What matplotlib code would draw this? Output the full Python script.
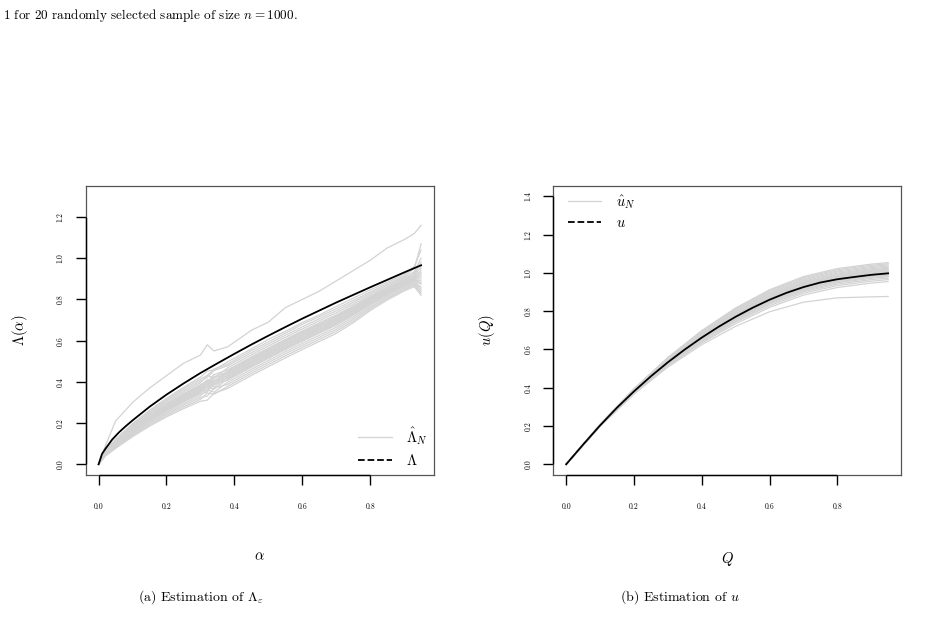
import matplotlib
matplotlib.use("Agg")
import matplotlib.pyplot as plt
from matplotlib.lines import Line2D

plt.rcParams['font.family'] = 'serif'
plt.rcParams['font.serif'] = ['cmr10', 'DejaVu Serif']
plt.rcParams['mathtext.fontset'] = 'cm'
plt.rcParams['axes.formatter.use_mathtext'] = True

# ---------------- data: panel (a) ----------------
alpha_true = [0, .01, .02, .04, .06, .08, .10, .15, .20, .25, .30, .35, .40, .45,
              .50, .55, .60, .65, .70, .75, .80, .85, .90, .95]
lambda_true = [0, .05, .075, .12, .155, .185, .213, .279, .338, .392, .443, .490,
               .536, .581, .624, .666, .707, .746, .785, .822, .859, .895, .931, .966]

alpha_grid = [0, .02, .05, .10, .15, .20, .25, .30, .32, .34, .38, .45, .50, .55,
              .60, .65, .70, .75, .80, .85, .90, .93, .95]
lambda_est = [
    [0, .09, .21, .30, .37, .43, .49, .53, .58, .55, .57, .65, .69, .76, .80, .84, .89, .94, .99, 1.05, 1.09, 1.12, 1.16],
    [0, .066, .122, .198, .262, .320, .373, .423, .452, .458, .497, .560, .606, .645, .688, .724, .766, .806, .846, .884, .921, .960, 1.04],
    [0, .064, .119, .194, .257, .314, .366, .414, .431, .462, .486, .551, .594, .636, .679, .716, .755, .795, .836, .876, .913, .950, 1.07],
    [0, .062, .116, .189, .251, .307, .358, .405, .421, .455, .478, .541, .584, .626, .667, .706, .745, .786, .829, .869, .907, .935, 1.00],
    [0, .060, .112, .184, .245, .300, .350, .396, .431, .418, .468, .531, .574, .616, .657, .696, .735, .777, .821, .862, .901, .925, .98],
    [0, .058, .109, .179, .239, .293, .342, .387, .401, .435, .458, .521, .564, .606, .647, .686, .725, .768, .814, .856, .895, .916, .96],
    [0, .057, .107, .176, .236, .289, .338, .382, .410, .400, .453, .516, .559, .601, .642, .681, .720, .763, .810, .853, .892, .913, .94],
    [0, .056, .105, .174, .233, .286, .334, .378, .391, .425, .448, .511, .554, .596, .637, .676, .715, .759, .806, .849, .889, .930, .95],
    [0, .055, .104, .171, .230, .282, .330, .373, .406, .395, .443, .506, .549, .591, .632, .671, .710, .754, .803, .846, .886, .907, .93],
    [0, .054, .102, .169, .227, .279, .326, .369, .381, .420, .438, .501, .544, .586, .627, .666, .705, .750, .799, .843, .883, .904, .92],
    [0, .053, .100, .166, .224, .275, .322, .364, .396, .385, .433, .496, .539, .581, .622, .661, .700, .745, .795, .840, .880, .901, .91],
    [0, .052, .098, .164, .221, .272, .318, .360, .371, .410, .428, .491, .534, .576, .617, .656, .695, .741, .791, .836, .877, .898, .90],
    [0, .051, .097, .161, .218, .268, .314, .355, .386, .375, .423, .486, .529, .571, .612, .651, .690, .736, .788, .833, .874, .895, .89],
    [0, .050, .095, .159, .215, .265, .310, .351, .361, .400, .418, .481, .524, .566, .607, .646, .685, .732, .784, .830, .871, .892, .88],
    [0, .049, .093, .156, .212, .261, .306, .346, .376, .365, .413, .476, .519, .561, .602, .641, .680, .727, .780, .827, .868, .889, .875],
    [0, .048, .091, .154, .209, .258, .302, .342, .351, .390, .408, .471, .514, .556, .597, .636, .675, .723, .776, .823, .865, .886, .86],
    [0, .046, .088, .149, .203, .251, .294, .333, .361, .350, .398, .461, .504, .546, .587, .626, .665, .714, .769, .817, .859, .880, .85],
    [0, .044, .084, .144, .197, .244, .286, .324, .331, .370, .388, .451, .494, .536, .577, .616, .655, .705, .761, .810, .853, .874, .84],
    [0, .042, .081, .139, .191, .237, .278, .315, .346, .340, .378, .441, .484, .526, .567, .606, .645, .696, .754, .804, .847, .868, .83],
    [0, .040, .077, .134, .185, .230, .270, .306, .311, .345, .368, .431, .474, .516, .557, .596, .635, .687, .746, .797, .841, .862, .82],
]

# ---------------- data: panel (b) ----------------
q_true = [0, .05, .1, .15, .2, .25, .3, .35, .4, .45, .5, .55, .6, .65, .7, .75, .8, .85, .9, .95]
u_true = [0, .103, .203, .296, .381, .460, .533, .600, .662, .719, .771, .818, .860, .896,
          .926, .950, .967, .979, .990, .998]

q_grid = [0, .1, .2, .3, .4, .5, .6, .7, .8, .9, .95]
u_est = [
    [0, .209, .395, .558, .699, .817, .912, .981, 1.023, 1.046, 1.054],
    [0, .208, .394, .556, .695, .813, .907, .975, 1.017, 1.040, 1.048],
    [0, .207, .392, .553, .691, .808, .901, .969, 1.011, 1.034, 1.042],
    [0, .207, .391, .550, .687, .803, .895, .963, 1.005, 1.028, 1.036],
    [0, .206, .389, .547, .683, .798, .890, .957, .999, 1.022, 1.030],
    [0, .206, .388, .545, .680, .793, .885, .952, .994, 1.017, 1.025],
    [0, .205, .387, .543, .677, .789, .880, .948, .989, 1.012, 1.020],
    [0, .205, .386, .541, .674, .786, .877, .944, .985, 1.008, 1.016],
    [0, .204, .385, .539, .671, .783, .873, .940, .981, 1.004, 1.012],
    [0, .204, .384, .538, .669, .779, .869, .936, .977, 1.000, 1.008],
    [0, .204, .383, .536, .666, .776, .866, .932, .973, .996, 1.004],
    [0, .203, .382, .534, .663, .773, .862, .928, .969, .992, 1.000],
    [0, .203, .380, .532, .660, .769, .857, .923, .964, .987, .995],
    [0, .202, .379, .529, .657, .764, .853, .918, .959, .982, .990],
    [0, .202, .378, .527, .653, .760, .848, .913, .954, .977, .985],
    [0, .201, .377, .525, .650, .756, .843, .908, .949, .972, .980],
    [0, .201, .375, .522, .646, .750, .837, .902, .942, .965, .973],
    [0, .200, .373, .518, .640, .744, .829, .894, .934, .957, .965],
    [0, .199, .370, .514, .634, .735, .820, .884, .924, .947, .955],
    [0, .197, .367, .508, .625, .721, .797, .847, .870, .875, .877],
]

x_ticks = [0.0, 0.2, 0.4, 0.6, 0.8]
y_ticks_a = [0.0, 0.2, 0.4, 0.6, 0.8, 1.0, 1.2]
y_ticks_b = [0.0, 0.2, 0.4, 0.6, 0.8, 1.0, 1.2, 1.4]

GREY = '#D3D3D3'
W, H = 933, 618
fig = plt.figure(figsize=(W / 100, H / 100), dpi=100)


def px_axes(l, t, r, b):
    return fig.add_axes([l / W, 1 - b / H, (r - l) / W, (b - t) / H])


def style(ax, yticks, ylim):
    ax.set_xlim(-0.038, 0.988)
    ax.set_ylim(*ylim)
    for s in ax.spines.values():
        s.set_color('#555555')
        s.set_linewidth(0.9)
    ax.set_xticks(x_ticks)
    ax.set_yticks(yticks)
    ax.set_xticklabels([f"{v:.1f}" for v in x_ticks], fontsize=5.5)
    ax.set_yticklabels([f"{v:.1f}" for v in yticks], fontsize=5.5, rotation=90, va='center')
    ax.tick_params(axis='both', which='major', direction='out', length=7, width=1.0,
                   color='black', bottom=True, left=True, top=False, right=False)
    ax.tick_params(axis='x', pad=13)
    ax.tick_params(axis='y', pad=8)
    # R-style axis lines spanning first to last tick
    ax.plot([x_ticks[0], x_ticks[-1]], [ylim[0], ylim[0]], color='black', lw=1.0,
            clip_on=False, zorder=5, solid_capstyle='butt')
    ax.plot([-0.038, -0.038], [yticks[0], yticks[-1]], color='black', lw=1.0,
            clip_on=False, zorder=5, solid_capstyle='butt')


# ---- panel (a)
ax1 = px_axes(85.7, 185.7, 434, 475)
for ys in lambda_est:
    ax1.plot(alpha_grid, ys, color=GREY, lw=0.9)
ax1.plot(alpha_true, lambda_true, color='black', lw=1.3)
style(ax1, y_ticks_a, (-0.052, 1.352))
ax1.set_xlabel(r'$\alpha$', fontsize=10.5)
ax1.set_ylabel(r'$\Lambda(\alpha)$', fontsize=10.5)
ax1.xaxis.set_label_coords(0.5, -0.259)
ax1.yaxis.set_label_coords(-0.16, 0.5)
h1 = [Line2D([], [], color=GREY, lw=0.9), Line2D([], [], color='black', lw=1.3, ls='--')]
ax1.legend(h1, [r'$\hat{\Lambda}_N$', r'$\Lambda$'], loc='upper left',
           bbox_to_anchor=(0.782, 0.172), frameon=False, fontsize=10.5,
           handlelength=2.3, handletextpad=1.0, labelspacing=0.4,
           borderpad=0, borderaxespad=0)

# ---- panel (b)
ax2 = px_axes(553.3, 185.7, 901, 475)
for ys in u_est:
    ax2.plot(q_grid, ys, color=GREY, lw=0.9)
ax2.plot(q_true, u_true, color='black', lw=1.3)
style(ax2, y_ticks_b, (-0.056, 1.456))
ax2.set_xlabel(r'$Q$', fontsize=10.5)
ax2.set_ylabel(r'$u(Q)$', fontsize=10.5)
ax2.xaxis.set_label_coords(0.5, -0.259)
ax2.yaxis.set_label_coords(-0.162, 0.5)
h2 = [Line2D([], [], color=GREY, lw=0.9), Line2D([], [], color='black', lw=1.3, ls='--')]
ax2.legend(h2, [r'$\hat{u}_N$', r'$u$'], loc='upper left',
           bbox_to_anchor=(0.042, 0.975), frameon=False, fontsize=10.5,
           handlelength=2.3, handletextpad=1.0, labelspacing=0.4,
           borderpad=0, borderaxespad=0)

# ---- texts
fig.text(3 / W, 1 - 16 / H, r'1 for 20 randomly selected sample of size $n = 1000$.',
         fontsize=9.5, ha='left', va='center')
fig.text(201 / W, 1 - 597 / H, r'(a) Estimation of $\Lambda_\varepsilon$',
         fontsize=10, ha='center', va='center')
fig.text(680 / W, 1 - 597 / H, r'(b) Estimation of $u$',
         fontsize=10, ha='center', va='center')

fig.savefig('out.png', dpi=100)
